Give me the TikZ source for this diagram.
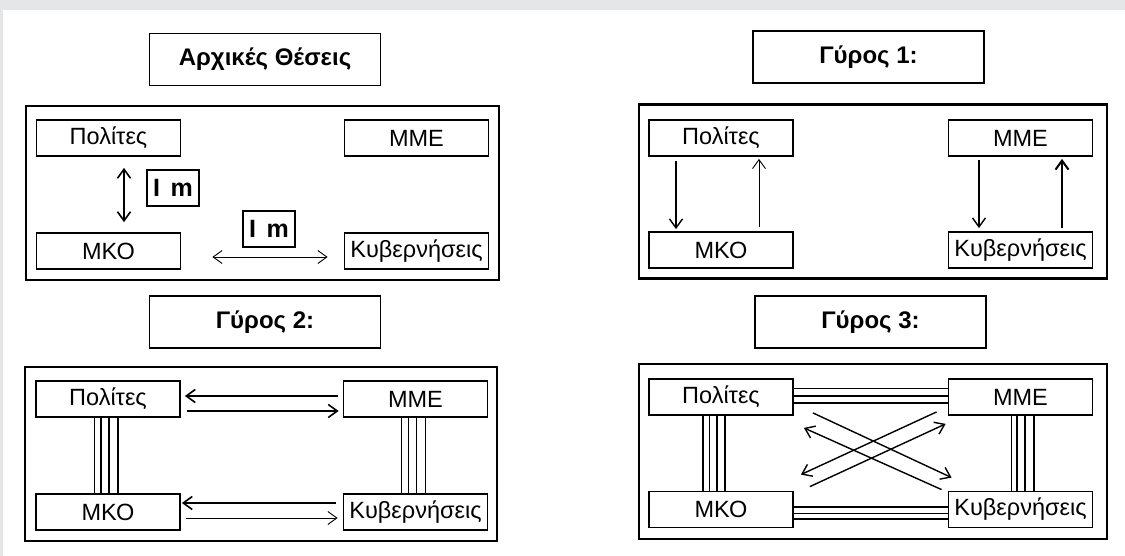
\documentclass[tikz,border=0pt]{standalone}
\usepackage{fontspec}
\setmainfont{Liberation Sans}
\usetikzlibrary{arrows.meta, calc}
\definecolor{bggray}{RGB}{229,230,232}

\begin{document}
\begin{tikzpicture}[x=1pt, y=-1pt,
    >={Straight Barb[length=9pt,width=13pt]},
    box/.style={draw, line width=1.8pt, minimum width=144pt, minimum height=36pt,
                inner sep=0pt, font=\fontsize{23.5}{26}\selectfont},
    title/.style={draw, line width=1.6pt, minimum width=231pt, minimum height=52pt,
                  inner sep=0pt, font=\bfseries\fontsize{24}{27}\selectfont},
    frame/.style={draw, line width=2.6pt, minimum height=174pt, inner sep=0pt},
    imbox/.style={draw, line width=1.8pt, minimum width=52pt, minimum height=36pt,
                  inner sep=0pt, font=\bfseries\fontsize{25}{28}\selectfont}]

\fill[white] (0,0) rectangle (1125,556);
\fill[bggray] (0,0) rectangle (1125,10);
\fill[bggray] (0,0) rectangle (3,556);
\useasboundingbox (0,0) rectangle (1125,556);

% % Arxikes theseis
\node (title1) at (265,59.5) [title] {Αρχικές Θέσεις};
\node (frame1) at (262.5,193) [frame, minimum width=473pt] {};
\node (pol1) at (108.5,138) [box] {Πολίτες};
\node (mme1) at (416.5,138) [box] {ΜΜΕ};
\node (mko1) at (108.5,251) [box] {ΜΚΟ};
\node (kyv1) at (416.5,251) [box] {Κυβερνήσεις};
\node (im1) at (173,188) [imbox] {I\hspace{0.15em} m};
\node (im2) at (269,229) [imbox] {I\hspace{0.15em} m};

\draw [<->, line width=1.6pt] ($(pol1.south)+(15.5,11)$) -- ($(mko1.north)+(15.5,-10)$);
\draw [<->, line width=0.9pt] ($(mko1.east)+(31,6)$) -- ($(kyv1.west)+(-16,6)$);

% % Gyros 1
\node (title2) at (868.5,57) [title] {Γύρος 1:};
\node (frame2) at (873,191.5) [frame, minimum width=468pt] {};
\node (pol2) at (721,138) [box] {Πολίτες};
\node (mme2) at (1020.5,138) [box] {ΜΜΕ};
\node (mko2) at (721,250) [box] {ΜΚΟ};
\node (kyv2) at (1020.5,250) [box] {Κυβερνήσεις};

\draw [->, line width=1.4pt] ($(pol2.south)+(-45,4)$) -- ($(mko2.north)+(-45,-2)$);
\draw [->, line width=0.9pt] ($(mko2.north)+(38,-4)$) -- ($(pol2.south)+(38,2)$);
\draw [->, line width=1.4pt] ($(mme2.south)+(-41.5,3)$) -- ($(kyv2.north)+(-41.5,-3)$);
\draw [->, line width=2pt] ($(kyv2.north)+(41.5,-3)$) -- ($(mme2.south)+(41.5,2)$);

% % Gyros 2
\node (title3) at (265,322) [title] {Γύρος 2:};
\node (frame3) at (261,454) [frame, minimum width=472pt] {};
\node (pol3) at (108,399) [box] {Πολίτες};
\node (mme3) at (415.5,399) [box] {ΜΜΕ};
\node (mko3) at (108,512) [box] {ΜΚΟ};
\node (kyv3) at (415.5,512) [box] {Κυβερνήσεις};

\draw [->, line width=1.6pt] ($(mme3.west)+(-5,-3)$) -- ($(pol3.east)+(4,-3)$);
\draw [->, line width=1.6pt] ($(pol3.east)+(6,12)$) -- ($(mme3.west)+(-4,12)$);
\draw [->, line width=1.6pt] ($(kyv3.west)+(-7,-9)$) -- ($(mko3.east)+(1,-9)$);
\draw [->, line width=0.9pt] ($(mko3.east)+(5,6)$) -- ($(kyv3.west)+(-5,6)$);

\foreach \dx/\w in {-14/0.6, -7/1.6, 1/1.6, 10/1.6} {
    \draw [line width=\w pt] ($(pol3.south)+(\dx,0)$) -- ($(mko3.north)+(\dx,0)$);
    \draw [line width=\w pt] ($(mme3.south)+(\dx,0)$) -- ($(kyv3.north)+(\dx,0)$);
}

% % Gyros 3
\node (title4) at (870.5,322) [title] {Γύρος 3:};
\node (frame4) at (873,451.5) [frame, minimum width=468pt, minimum height=175pt] {};
\node (pol4) at (721,397) [box] {Πολίτες};
\node (mme4) at (1020.5,397) [box] {ΜΜΕ};
\node (mko4) at (721,509.5) [box] {ΜΚΟ};
\node (kyv4) at (1020.5,509.5) [box] {Κυβερνήσεις};

\foreach \dx/\w in {-18/1.6, -12/0.6, -4/1.6, 4/1.6}
    \draw [line width=\w pt] ($(pol4.south)+(\dx,0)$) -- ($(mko4.north)+(\dx,0)$);
\foreach \dx/\w in {-9.5/0.6, -3.5/1.6, 4.5/1.6, 13.5/1.6}
    \draw [line width=\w pt] ($(mme4.south)+(\dx,0)$) -- ($(kyv4.north)+(\dx,0)$);
\foreach \dy/\w in {-9/0.6, -1/1.6, 6/1.6}
    \draw [line width=\w pt] ($(pol4.east)+(0,\dy)$) -- ($(mme4.west)+(0,\dy)$);
\foreach \dy/\w in {-2.5/1.6, 3.5/0.6, 9.5/1.6}
    \draw [line width=\w pt] ($(mko4.east)+(0,\dy)$) -- ($(kyv4.west)+(0,\dy)$);

\draw [->, line width=1.4pt] ($(kyv4.north west)+(-6,-1)$) -- ($(pol4.south east)+(10,12)$);
\draw [->, line width=1.4pt] ($(pol4.south east)+(19,-3)$) -- ($(kyv4.north west)+(4,-13)$);
\draw [->, line width=1.4pt] ($(mme4.south west)+(-11,-4)$) -- ($(mko4.north east)+(7,-16)$);
\draw [->, line width=1.4pt] ($(mko4.north east)+(16,-4)$) -- ($(mme4.south west)+(-2,8)$);
\end{tikzpicture}
\end{document}
